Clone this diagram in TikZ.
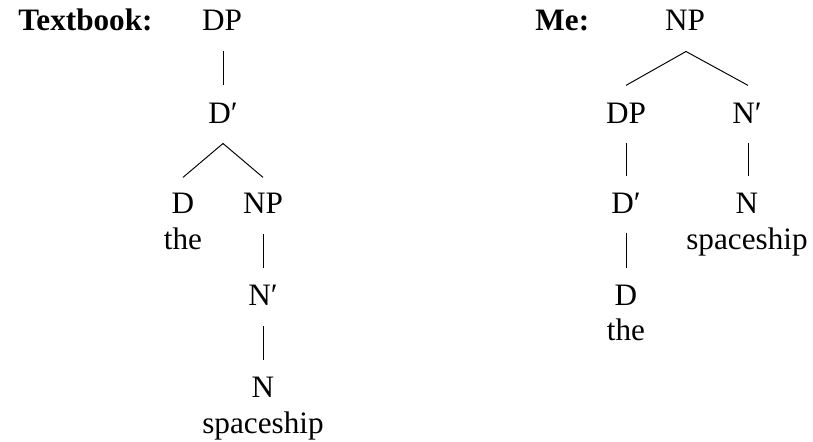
\documentclass[tikz,border=0pt]{standalone}
\usepackage{fontspec}
\setmainfont{Liberation Serif}
\usetikzlibrary{calc}
\begin{document}
\begin{tikzpicture}[x=0.41667pt,y=-0.41667pt,
  cat/.style={inner sep=0pt,anchor=base,text height=8.4pt,text depth=0pt,font=\fontsize{13}{16}\selectfont},
  word/.style={inner sep=0pt,anchor=base,font=\fontsize{13}{16}\selectfont},
  lbl/.style={inner sep=0pt,anchor=base west,font=\fontsize{13}{16}\selectfont\bfseries},
  edge/.style={line width=0.4pt}]
\path[use as bounding box] (0,0) rectangle (813,441);
% left tree
\node[lbl] (tb) at (18,30) {Textbook:};
\node[cat] (dp) at (222,30) {DP};
\node[cat] (db) at (223,123) {D′};
\node[cat] (d) at (183,213) {D};
\node[word] (the) at (183,249) {the};
\node[cat] (np) at (263,213) {NP};
\node[cat] (nb) at (263,305) {N′};
\node[cat] (n) at (263,397) {N};
\node[word] (sp) at (263,433) {spaceship};
\draw[edge] ($(db.north |- dp.south)+(0,21)$) -- ($(db.north)+(0,-17)$);
\draw[edge] ($(db.south)+(0,20)$) -- ($(d.north)+(0,-15)$);
\draw[edge] ($(db.south)+(0,20)$) -- ($(np.north)+(0,-15)$);
\draw[edge] ($(np.south)+(0,21)$) -- ($(nb.north)+(0,-16)$);
\draw[edge] ($(nb.south)+(0,21)$) -- ($(n.north)+(0,-16)$);
% right tree
\node[lbl] (me) at (535,30) {Me:};
\node[cat] (np2) at (685,30) {NP};
\node[cat] (dp2) at (626,123) {DP};
\node[cat] (nb2) at (747,123) {N′};
\node[cat] (db2) at (626,213) {D′};
\node[cat] (n2) at (747,213) {N};
\node[word] (sp2) at (747,249) {spaceship};
\node[cat] (d2) at (626,305) {D};
\node[word] (the2) at (626,340) {the};
\draw[edge] ($(np2.south)+(1,21)$) -- ($(dp2.north)+(0,-17)$);
\draw[edge] ($(np2.south)+(1,21)$) -- ($(nb2.north)+(1,-17)$);
\draw[edge] ($(dp2.south)+(0,20)$) -- ($(db2.north)+(0,-16)$);
\draw[edge] ($(nb2.south)+(1,20)$) -- ($(n2.north)+(1,-16)$);
\draw[edge] ($(db2.south)+(0,20)$) -- ($(d2.north)+(0,-16)$);
\end{tikzpicture}
\end{document}
